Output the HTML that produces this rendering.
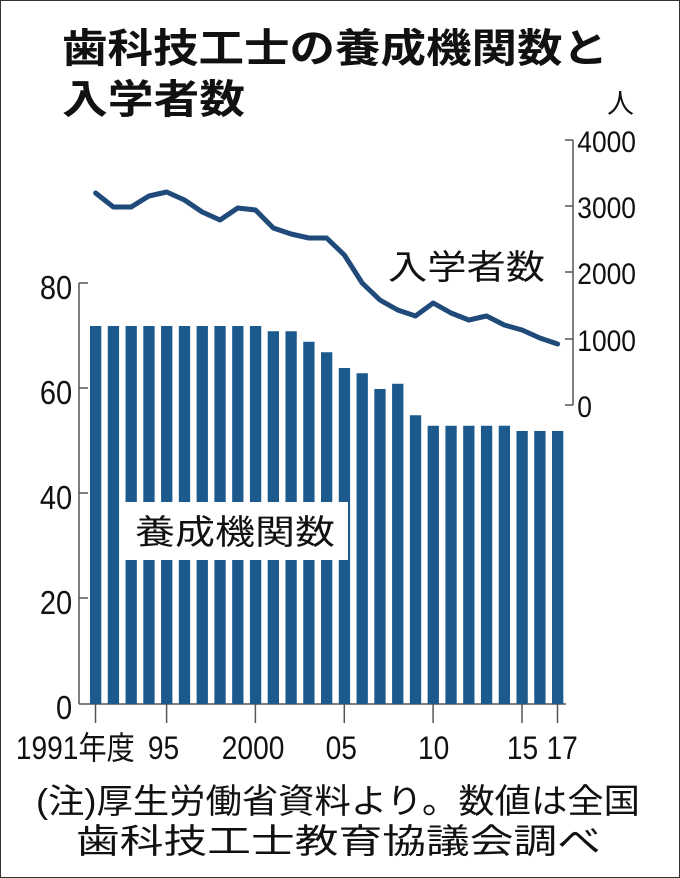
<!DOCTYPE html>
<html><head><meta charset="utf-8"><style>
html,body{margin:0;padding:0;background:#fff}
svg{display:block}
text{font-family:"Liberation Sans","Noto Sans CJK JP",sans-serif;fill:#111}
</style></head><body>
<svg width="680" height="878" viewBox="0 0 680 878" xmlns="http://www.w3.org/2000/svg">
<rect x="0.5" y="0.5" width="679" height="877" fill="#fff" stroke="#333" stroke-width="1"/>
<text x="62" y="62" font-size="40" font-weight="bold" textLength="546" lengthAdjust="spacingAndGlyphs">歯科技工士の養成機関数と</text>
<text x="62" y="113" font-size="40" font-weight="bold" textLength="183" lengthAdjust="spacingAndGlyphs">入学者数</text>
<g stroke="#555" stroke-width="1.5">
<line x1="79" y1="283" x2="79" y2="704"/>
<line x1="79" y1="704" x2="566" y2="704"/>
<line x1="79" y1="283" x2="88" y2="283"/>
<line x1="79" y1="388" x2="88" y2="388"/>
<line x1="79" y1="493" x2="88" y2="493"/>
<line x1="79" y1="598" x2="88" y2="598"/>
<line x1="573" y1="140" x2="573" y2="405"/>
<line x1="565" y1="140" x2="573" y2="140"/>
<line x1="565" y1="206" x2="573" y2="206"/>
<line x1="565" y1="272" x2="573" y2="272"/>
<line x1="565" y1="339" x2="573" y2="339"/>
<line x1="565" y1="405" x2="573" y2="405"/>
<line x1="95.5" y1="704" x2="95.5" y2="723"/>
<line x1="166.6" y1="704" x2="166.6" y2="723"/>
<line x1="255.4" y1="704" x2="255.4" y2="723"/>
<line x1="344.3" y1="704" x2="344.3" y2="723"/>
<line x1="433.1" y1="704" x2="433.1" y2="723"/>
<line x1="522" y1="704" x2="522" y2="723"/>
<line x1="557.5" y1="704" x2="557.5" y2="723"/>
</g>
<g font-size="33" text-anchor="end" transform="scale(0.88,1)">
<text x="82" y="299">80</text>
<text x="82" y="404">60</text>
<text x="82" y="509">40</text>
<text x="82" y="614">20</text>
<text x="82" y="719">0</text>
</g>
<g font-size="30" transform="scale(0.88,1)">
<text x="656" y="152">4000</text>
<text x="656" y="218">3000</text>
<text x="656" y="284">2000</text>
<text x="656" y="351">1000</text>
<text x="656" y="417">0</text>
</g>
<text x="607" y="113" font-size="27">人</text>
<g fill="#1c5a8e" id="bars"></g>
<rect x="125" y="502" width="223" height="58" fill="#fff"/>
<text x="135" y="544" font-size="34" textLength="200" lengthAdjust="spacingAndGlyphs">養成機関数</text>
<polyline id="ln" fill="none" stroke="#1f4a7a" stroke-width="5" stroke-linejoin="round" stroke-linecap="round" points=""/>
<text x="388" y="279" font-size="34" textLength="157" lengthAdjust="spacingAndGlyphs">入学者数</text>
<g font-size="32" transform="scale(0.88,1)">
<text x="18" y="759">1991年度</text>
<text x="168" y="759">95</text>
<text x="252" y="759">2000</text>
<text x="370" y="759">05</text>
<text x="475" y="759">10</text>
<text x="576" y="759">15</text>
<text x="621" y="759">17</text>
</g>
<text x="36" y="813" font-size="34" textLength="604" lengthAdjust="spacingAndGlyphs">(注)厚生労働省資料より。数値は全国</text>
<text x="76" y="853" font-size="34" textLength="525" lengthAdjust="spacingAndGlyphs">歯科技工士教育協議会調べ</text>
<script>
var v=[72,72,72,72,72,72,72,72,72,72,71,71,69,67,64,63,60,61,55,53,53,53,53,53,52,52,52];
var ly=[193,207,207,196,192,200,212,220,208,210,228,234,238,238,255,283,300,310,316,303,313,320,316,325,330,338,344];
var g=document.getElementById('bars'),ns='http://www.w3.org/2000/svg',pts=[];
for(var i=0;i<27;i++){var x=90+i*17.77,h=v[i]*5.25;var r=document.createElementNS(ns,'rect');
r.setAttribute('x',x);r.setAttribute('y',704-h);r.setAttribute('width',11.3);r.setAttribute('height',h);g.appendChild(r);
pts.push((x+5.6)+','+ly[i]);}
document.getElementById('ln').setAttribute('points',pts.join(' '));
</script>
</svg>
</body></html>
